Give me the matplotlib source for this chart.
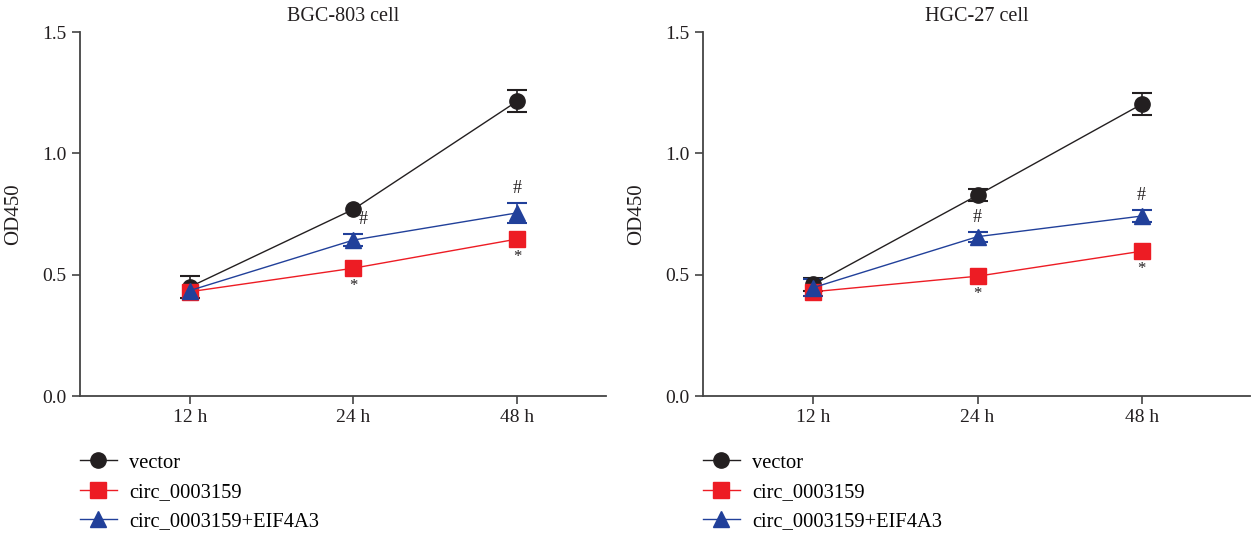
import matplotlib
matplotlib.use("Agg")
import matplotlib.pyplot as plt
from matplotlib.lines import Line2D
import numpy as np

plt.rcParams['font.family'] = ['Liberation Serif', 'DejaVu Serif']

times = ["12 h", "24 h", "48 h"]
series_names = ["vector", "circ_0003159", "circ_0003159+EIF4A3"]
colors = ["#231f20", "#ed1c24", "#21409a"]
markers = ["o", "s", "^"]

# BGC-803 cell
bgc_vector = [0.45, 0.77, 1.215]
bgc_vector_err = [0.045, 0.0, 0.045]
bgc_circ = [0.43, 0.527, 0.647]
bgc_circ_err = [0.0, 0.0, 0.0]
bgc_eif = [0.435, 0.643, 0.755]
bgc_eif_err = [0.0, 0.025, 0.04]

# HGC-27 cell
hgc_vector = [0.46, 0.828, 1.203]
hgc_vector_err = [0.025, 0.025, 0.045]
hgc_circ = [0.43, 0.494, 0.597]
hgc_circ_err = [0.0, 0.0, 0.0]
hgc_eif = [0.447, 0.657, 0.742]
hgc_eif_err = [0.035, 0.02, 0.025]

fig = plt.figure(figsize=(12.53, 5.35), dpi=100)
ax1 = fig.add_axes([0.0638, 0.2598, 0.4198, 0.680])
ax2 = fig.add_axes([0.561, 0.2598, 0.4366, 0.680])


def draw(ax, title, vals, errs, xmax, hash_dx):
    x = np.arange(len(times))
    handles = []
    for name, v, e, c, m in zip(series_names, vals, errs, colors, markers):
        v = np.array(v)
        e = np.array(e)
        keep = e > 0
        if keep.any():
            ax.errorbar(x[keep], v[keep], yerr=e[keep], fmt="none", ecolor=c,
                        elinewidth=1.2, capsize=7, capthick=1.5, zorder=2)
        ax.plot(x, v, color=c, marker=m, markersize=11, linewidth=1.0, zorder=3)
        handles.append(Line2D([], [], color=c, marker=m, markersize=11,
                              linewidth=1.0, label=name))
    red, blue = vals[1], vals[2]
    for i in (1, 2):
        ax.text(x[i], red[i] - 0.075, "*", ha="center", va="center",
                fontsize=12, color="#231f20")
        ax.text(x[i] + hash_dx[i], blue[i] + errs[2][i] + 0.06, "#", ha="center",
                va="center", fontsize=13, color="#231f20")
    ax.set_xlim(-0.673, xmax)
    ax.set_ylim(0, 1.5)
    ax.set_yticks([0.0, 0.5, 1.0, 1.5])
    ax.set_yticklabels(["0.0", "0.5", "1.0", "1.5"])
    ax.set_xticks(x)
    ax.set_xticklabels(times)
    ax.tick_params(labelsize=14, color="#444444", width=1.2, length=6, colors="#231f20")
    for s in ("top", "right"):
        ax.spines[s].set_visible(False)
    for s in ("left", "bottom"):
        ax.spines[s].set_linewidth(1.3)
        ax.spines[s].set_color("#444444")
    ax.set_ylabel("OD450", fontsize=15, color="#231f20", labelpad=14)
    ax.set_title(title, fontsize=14.5, color="#231f20", pad=8)
    ax.legend(handles=handles, loc="upper left", bbox_to_anchor=(0.0, -0.157),
              frameon=False, fontsize=14.8, handlelength=1.8, handletextpad=0.6,
              labelspacing=0.48, borderaxespad=0, borderpad=0)


draw(ax1, "BGC-803 cell", [bgc_vector, bgc_circ, bgc_eif],
     [bgc_vector_err, bgc_circ_err, bgc_eif_err], 2.544, [0, 0.06, 0])
draw(ax2, "HGC-27 cell", [hgc_vector, hgc_circ, hgc_eif],
     [hgc_vector_err, hgc_circ_err, hgc_eif_err], 2.66, [0, 0, 0])

fig.savefig("out.png", dpi=100)
